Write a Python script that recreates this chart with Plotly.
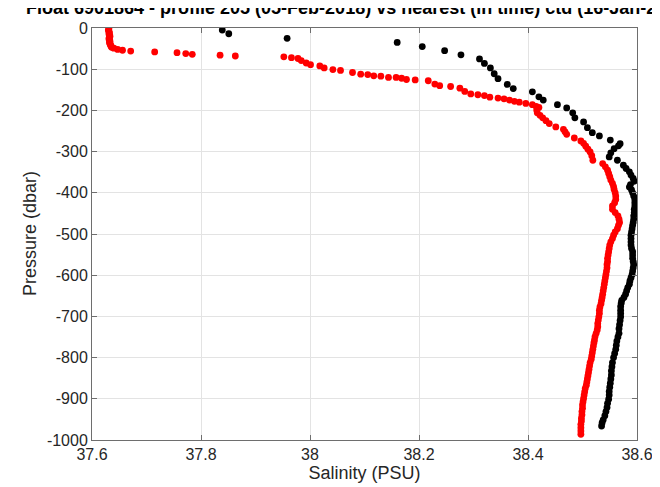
import plotly.graph_objects as go

# CTD (black), nearest in time, 16-Jan-2018
ctd_salinity = [37.839, 37.851, 37.958, 38.160, 38.206, 38.247, 38.277, 38.311, 38.320, 38.331,
                38.338, 38.345, 38.362, 38.373, 38.408, 38.420, 38.428, 38.454, 38.471, 38.482,
                38.486, 38.502, 38.509, 38.518, 38.531, 38.551, 38.569, 38.566, 38.558, 38.552,
                38.549, 38.564, 38.575, 38.580, 38.586, 38.589, 38.593, 38.595, 38.588, 38.586,
                38.590, 38.592, 38.594, 38.596, 38.596, 38.596, 38.595, 38.595, 38.594, 38.594,
                38.593, 38.592, 38.591, 38.590, 38.589, 38.589, 38.589, 38.589, 38.590, 38.592,
                38.592, 38.592, 38.593, 38.594, 38.593, 38.592, 38.591, 38.589, 38.587, 38.586,
                38.583, 38.581, 38.579, 38.576, 38.572, 38.571, 38.570, 38.570, 38.570, 38.570,
                38.569, 38.568, 38.567, 38.567, 38.565, 38.563, 38.562, 38.561, 38.559, 38.557,
                38.555, 38.554, 38.553, 38.553, 38.552, 38.551, 38.550, 38.549, 38.549, 38.548,
                38.546, 38.545, 38.543, 38.541, 38.538, 38.536, 38.535]
ctd_pressure = [-5, -14, -25, -35, -45, -55, -65, -75, -86, -97,
                -111, -123, -137, -147, -155, -167, -175, -186, -194, -206,
                -218, -228, -242, -254, -262, -272, -281, -286, -293, -303,
                -313, -321, -333, -341, -349, -357, -365, -372, -380, -386,
                -393, -400, -408, -416, -424, -432, -440, -448, -456, -464,
                -472, -479, -487, -495, -503, -511, -519, -527, -535, -543,
                -551, -559, -567, -574, -582, -590, -598, -606, -614, -622,
                -630, -638, -646, -654, -661, -668, -676, -685, -693, -701,
                -710, -720, -730, -741, -750, -760, -770, -780, -790, -800,
                -812, -822, -832, -842, -852, -862, -872, -882, -891, -901,
                -911, -921, -931, -941, -951, -958, -966]

# Float 6901864, profile 205 (red), 05-Feb-2018
float_salinity = [37.631, 37.630, 37.631, 37.632, 37.631, 37.632, 37.633, 37.632, 37.631, 37.632,
                  37.633, 37.632, 37.633, 37.634, 37.635, 37.636,
                  37.640, 37.647, 37.656, 37.671, 37.715, 37.756, 37.772, 37.784, 37.835, 37.863,
                  37.952, 37.966, 37.978, 37.984, 37.993, 38.001, 38.018, 38.026, 38.042, 38.056,
                  38.078, 38.093, 38.106, 38.117, 38.130, 38.144, 38.158, 38.168, 38.177, 38.193,
                  38.217, 38.229, 38.238, 38.258, 38.275, 38.284, 38.295, 38.308, 38.320, 38.330,
                  38.345, 38.356, 38.366, 38.375, 38.384, 38.396, 38.408, 38.415, 38.420, 38.416,
                  38.417, 38.422, 38.427, 38.433, 38.439, 38.451, 38.465, 38.468, 38.471, 38.485,
                  38.497, 38.502, 38.506, 38.510, 38.514, 38.517, 38.519, 38.537, 38.542, 38.546,
                  38.548, 38.550, 38.552, 38.555, 38.557, 38.558, 38.560, 38.561, 38.561, 38.559,
                  38.555, 38.555, 38.560, 38.565, 38.567, 38.568, 38.566, 38.564, 38.560, 38.557,
                  38.555, 38.552, 38.550, 38.549, 38.548, 38.547, 38.546, 38.546, 38.545, 38.545,
                  38.544, 38.543, 38.542, 38.541, 38.540, 38.539, 38.538, 38.537, 38.536, 38.535,
                  38.534, 38.532, 38.531, 38.531, 38.530, 38.529, 38.528, 38.528, 38.527, 38.525,
                  38.523, 38.522, 38.521, 38.520, 38.519, 38.518, 38.517, 38.516, 38.514, 38.513,
                  38.512, 38.511, 38.510, 38.509, 38.508, 38.507, 38.505, 38.504, 38.503, 38.502,
                  38.501, 38.500, 38.500, 38.499, 38.499, 38.498, 38.498, 38.497, 38.497, 38.497,
                  38.497]
float_pressure = [-2, -5, -8, -11, -14, -17, -20, -23, -26, -29,
                  -32, -35, -38, -41, -44, -47,
                  -49, -52, -54, -56, -58, -60, -62, -64, -66, -68,
                  -70, -72, -74, -79, -85, -89, -92, -97, -101, -103,
                  -108, -112, -113, -116, -117, -120, -120, -122, -125, -126,
                  -128, -136, -140, -142, -146, -154, -160, -162, -164, -168,
                  -170, -172, -175, -178, -180, -183, -186, -190, -193, -199,
                  -206, -212, -218, -225, -232, -240, -246, -252, -258, -267,
                  -274, -280, -287, -294, -301, -310, -321, -329, -337, -345,
                  -353, -361, -369, -377, -385, -392, -400, -408, -416, -424,
                  -432, -440, -448, -456, -464, -472, -479, -487, -495, -503,
                  -511, -519, -527, -535, -543, -551, -559, -567, -574, -582,
                  -590, -598, -606, -614, -622, -630, -638, -646, -654, -661,
                  -669, -677, -685, -693, -701, -709, -717, -725, -733, -741,
                  -749, -757, -764, -772, -780, -788, -796, -804, -812, -820,
                  -828, -836, -844, -852, -859, -867, -875, -883, -891, -899,
                  -907, -915, -923, -931, -939, -947, -954, -962, -970, -978,
                  -986]

x_tickvals = [37.6, 37.8, 38.0, 38.2, 38.4, 38.6]
x_ticktext = ["37.6", "37.8", "38", "38.2", "38.4", "38.6"]
y_tickvals = [0, -100, -200, -300, -400, -500, -600, -700, -800, -900, -1000]
y_ticktext = ["0", "-100", "-200", "-300", "-400", "-500", "-600", "-700", "-800", "-900", "-1000"]

title_text = "Float 6901864 - profile 205 (05-Feb-2018) vs nearest (in time) ctd (16-Jan-2018)"

FONT = "Liberation Sans, Arial, Helvetica, sans-serif"
AX = "#262626"
LINE = "#6e6e6e"

fig = go.Figure()
fig.add_trace(go.Scatter(x=ctd_salinity, y=ctd_pressure, mode="markers",
                         marker=dict(color="black", size=6.8, line=dict(width=0)),
                         name="ctd", showlegend=False))
fig.add_trace(go.Scatter(x=float_salinity, y=float_pressure, mode="markers",
                         marker=dict(color="#ff0000", size=6.8, line=dict(width=0)),
                         name="float", showlegend=False))

axis_common = dict(showgrid=True, gridcolor="#e3e3e3", gridwidth=1,
                   showline=True, linecolor=LINE, linewidth=1, mirror="ticks",
                   ticks="inside", ticklen=5, tickcolor=LINE, zeroline=False,
                   tickfont=dict(family=FONT, size=16, color=AX))

fig.update_xaxes(range=[37.6, 38.6], tickvals=x_tickvals, ticktext=x_ticktext,
                 title=dict(text="Salinity (PSU)", font=dict(family=FONT, size=18, color=AX), standoff=4),
                 **axis_common)
fig.update_yaxes(range=[-1000, 0], tickvals=y_tickvals, ticktext=y_ticktext,
                 **axis_common)

fig.update_layout(
    width=660, height=487,
    margin=dict(l=84, r=31, t=12, b=55, pad=0),
    paper_bgcolor="white", plot_bgcolor="white",
    annotations=[
        dict(text="<b>" + title_text + "</b>", xref="paper", yref="paper",
             x=(17 - 84) / 545, xanchor="left", y=1.0, yanchor="bottom",
             yshift=9, showarrow=False, borderpad=0,
             font=dict(family=FONT, size=18, color="black")),
        dict(text="Pressure (dbar)", xref="paper", yref="paper",
             x=(22 - 84) / 545, xanchor="center", y=0.5, yanchor="middle",
             textangle=-90, showarrow=False, borderpad=0,
             font=dict(family=FONT, size=18, color=AX)),
    ],
)

fig.write_html("out.html")
